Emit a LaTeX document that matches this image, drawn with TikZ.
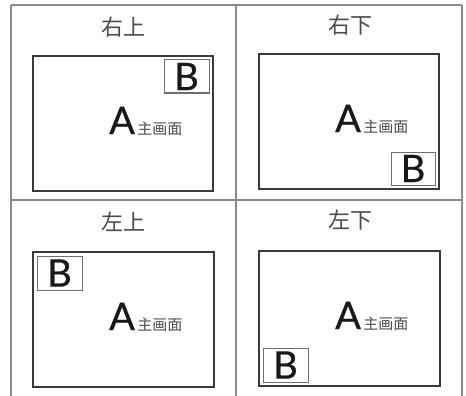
\documentclass[tikz,border=0pt]{standalone}
\usepackage{fontspec}
\setmainfont{Lato}
\newfontfamily\letterfont[FakeBold=0.6]{Lato}
\newfontfamily\cjk{Noto Sans CJK SC}
\definecolor{gridgray}{HTML}{8A8A8A}
\definecolor{framegray}{HTML}{3A3A3A}
\definecolor{txtgray}{HTML}{4A4A4A}
\begin{document}
\begin{tikzpicture}[x=1pt,y=-1pt,
  gridline/.style={draw=gridgray,line width=1.4pt},
  screen/.style={draw=framegray,line width=1.2pt,anchor=north west,inner sep=0pt,outer sep=0pt},
  pip/.style={draw=gridgray!80!black,line width=1pt,anchor=north west,inner sep=0pt,outer sep=0pt},
  title/.style={font=\cjk\fontsize{22}{24}\selectfont,text=txtgray},
  bigletter/.style={font=\letterfont\fontsize{38}{40}\selectfont,text=black!90,inner sep=0pt},
  sub/.style={font=\cjk\fontsize{15}{17}\selectfont,text=txtgray,inner sep=0pt,anchor=base west}]
\useasboundingbox (0,0) rectangle (466,396);
% grid
\coordinate (tl) at (11,5);
\coordinate (tm) at (236,5);
\coordinate (tr) at (462,5);
\coordinate (ml) at (11,200);
\coordinate (mr) at (462,200);
\coordinate (bl) at (11,396);
\coordinate (bm) at (236,396);
\coordinate (br) at (462,396);
\draw[gridline] (tl) -- (tr);
\draw[gridline] (ml) -- (mr);
\draw[gridline] (tl) -- (bl);
\draw[gridline] (tm) -- (bm);
\draw[gridline] (tr) -- (br);
% cell 1: top right
\node[title] (t1) at (123,27) {右上};
\node[screen,minimum width=180pt,minimum height=135pt] (s1) at (33,56) {};
\node[pip,minimum width=45pt,minimum height=33pt] (p1) at (164,60) {};
\node[bigletter] (b1) at (p1.center) {B};
\node[bigletter,anchor=base west] (a1) at (109,134) {A};
\node[sub] (m1) at ([xshift=2pt]a1.base east) {主画面};
% cell 2: bottom right
\node[title] (t2) at (350,25) {右下};
\node[screen,minimum width=180pt,minimum height=135pt] (s2) at (259,54) {};
\node[pip,minimum width=44pt,minimum height=33pt] (p2) at (391,152) {};
\node[bigletter] (b2) at (p2.center) {B};
\node[bigletter,anchor=base west] (a2) at (335,132) {A};
\node[sub] (m2) at ([xshift=2pt]a2.base east) {主画面};
% cell 3: top left
\node[title] (t3) at (123,222) {左上};
\node[screen,minimum width=181pt,minimum height=135pt] (s3) at (33,252) {};
\node[pip,minimum width=45pt,minimum height=34pt] (p3) at (37,256) {};
\node[bigletter] (b3) at (p3.center) {B};
\node[bigletter,anchor=base west] (a3) at (109,330) {A};
\node[sub] (m3) at ([xshift=2pt]a3.base east) {主画面};
% cell 4: bottom left
\node[title] (t4) at (350,220) {左下};
\node[screen,minimum width=181pt,minimum height=135pt] (s4) at (259,251) {};
\node[pip,minimum width=45pt,minimum height=34pt] (p4) at (263,348) {};
\node[bigletter] (b4) at (p4.center) {B};
\node[bigletter,anchor=base west] (a4) at (335,329) {A};
\node[sub] (m4) at ([xshift=2pt]a4.base east) {主画面};
\end{tikzpicture}
\end{document}
